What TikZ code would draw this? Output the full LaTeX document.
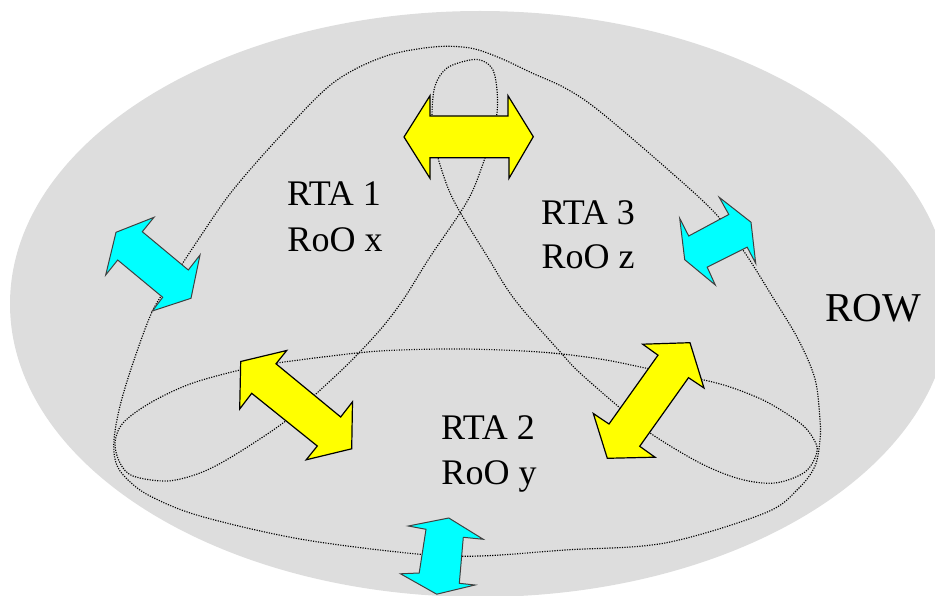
\documentclass[tikz,border=0pt]{standalone}
\usepackage{fontspec}
\setmainfont{Liberation Serif}
\definecolor{bggray}{HTML}{DDDDDD}
\definecolor{yel}{HTML}{FFFF00}
\definecolor{cya}{HTML}{00FFFF}
\tikzset{
  dotline/.style={line width=1.15pt, dash pattern=on 1.15pt off 1.35pt, draw=black},
  yarrow/.style={fill=yel, draw=black, line width=1.2pt, line join=miter},
  carrow/.style={fill=cya, draw=black!75, line width=1pt, line join=miter},
  lbl/.style={font=\fontsize{36}{40}\selectfont, inner sep=0pt, anchor=base},
}
\begin{document}
\begin{tikzpicture}[x=1pt,y=-1pt]
\useasboundingbox (0,0) rectangle (935,596);
\clip (0,0) rectangle (935,596);
% background
\fill[bggray] (480,304) ellipse [x radius=470pt, y radius=293pt];
% dome curve
\draw[dotline] plot[smooth cycle, tension=0.55] coordinates {
 (433,47) (383,57) (333,83) (283,133) (233,190) (200,237) (170,283) (152,312)
 (133,363) (120,406) (114,440) (116,463) (127,479) (150,496) (200,516) (300,539)
 (417,554) (480,556) (565,550) (665,543) (765,513) (798,489) (815,466) (820,440)
 (820,420) (815,379) (798,339) (772,296) (745,253) (715,213) (665,167) (598,110)
 (565,88) (532,73) (500,58) (470,48)};
% twisted inner loop
\draw[dotline] plot[smooth cycle, tension=0.55] coordinates {
 (470,60) (447,68) (435,86) (432,115) (434,140) (438,158) (448,188) (460,212)
 (487,256) (515,300) (562,354) (580,373) (620,408) (650,433) (700,463) (740,479)
 (775,483) (805,472) (817,452) (813,438) (800,423) (767,402) (733,388) (704,380)
 (650,369) (600,359) (540,352) (465,349) (400,350) (357,353) (277,363) (240,370)
 (190,384) (150,403) (123,423) (115,443) (120,463) (133,476) (167,481) (200,473)
 (233,456) (283,423) (317,393) (350,362) (380,330) (403,300) (430,257) (460,213)
 (473,190) (485,158) (492,135) (497,113) (497,90) (493,70) (483,61)};
% yellow arrows
\draw[yarrow] (404,137) -- (430,95.7) -- (430,116) -- (508,116) -- (508,95.7) -- (533.3,136.7)
  -- (509,178.3) -- (509,157.7) -- (430,157.7) -- (430,178.3) -- cycle;
\draw[yarrow] (240.7,361.5) -- (286.7,350.5) -- (276,363.8) -- (340.7,417) -- (352.5,401.8)
  -- (351.7,448.8) -- (306.2,459.8) -- (317.3,446) -- (251.7,393.3) -- (239.7,409) -- cycle;
\draw[yarrow] (642.7,344.2) -- (690,342.7) -- (704,388) -- (688.5,377.7) -- (639.7,446.3)
  -- (655,457.2) -- (607.3,458.3) -- (593.3,413.5) -- (609,424) -- (658,355.2) -- cycle;
% cyan arrows
\draw[carrow] (116,232.3) -- (154,217.3) -- (142.3,231.7) -- (188.3,270) -- (200,255)
  -- (191,298.3) -- (152.3,311) -- (162.7,297.3) -- (117.7,260) -- (105.7,275) -- cycle;
\draw[carrow] (679.7,218.3) -- (688.7,236) -- (728.8,214.5) -- (719.2,197.3) -- (751,222.2)
  -- (755.7,263.3) -- (747.2,247.2) -- (707.2,267.2) -- (715.3,285) -- (684.7,259.7) -- cycle;
\draw[carrow] (408.3,526) -- (448.8,518) -- (483.3,539.3) -- (463.3,537.3) -- (459.3,583.3)
  -- (475,585) -- (436.7,594.2) -- (400.5,573.8) -- (419.2,573) -- (426,529.3) -- cycle;
% labels
\node[lbl] (rta1) at (334,206) {RTA 1};
\node[lbl] (roox) at (335,252) {RoO x};
\node[lbl] (rta3) at (588,225) {RTA 3};
\node[lbl] (rooz) at (588,269) {RoO z};
\node[lbl] (rta2) at (488,439) {RTA 2};
\node[lbl] (rooy) at (489,484) {RoO y};
\node[lbl, font=\fontsize{41}{45}\selectfont, anchor=base west] (row) at (825,321) {ROW};
\end{tikzpicture}
\end{document}
